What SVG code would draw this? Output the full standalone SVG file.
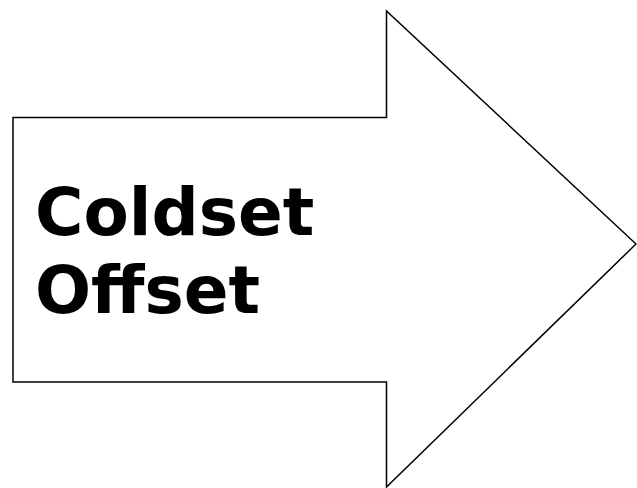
<svg xmlns="http://www.w3.org/2000/svg" width="637" height="488" viewBox="0 0 637 488">
<style>
.shape{fill:#fff;stroke:#000;stroke-width:1.5;stroke-linejoin:miter}
.lbl{font-family:"DejaVu Sans",Verdana,sans-serif;font-weight:bold;font-size:66px;fill:#000}
</style>
<rect width="637" height="488" fill="#fff"/>
<g id="arrow">
<path class="shape" d="M13,117.5 H386.5 V11 L636,244 L386.5,487 V382 H13 Z"/>
<text class="lbl" x="35" y="235">Coldset</text>
<text class="lbl" x="35" y="313">Offset</text>
</g>
</svg>
